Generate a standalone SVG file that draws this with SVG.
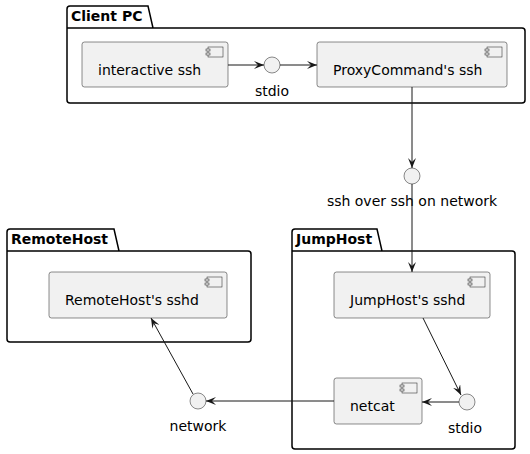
<svg xmlns="http://www.w3.org/2000/svg" width="530" height="454" viewBox="0 0 530 454">
<defs>
<style>
.pkg{fill:none;stroke:#000;stroke-width:1.5}
.comp{fill:#F1F1F1;stroke:#181818;stroke-width:0.5}
.icon{fill:#F1F1F1;stroke:#181818;stroke-width:0.5}
.ifc{fill:#F1F1F1;stroke:#181818;stroke-width:0.5}
.t{font-family:"DejaVu Sans",sans-serif;font-size:14px;fill:#000}
.pt{font-family:"DejaVu Sans",sans-serif;font-size:14px;font-weight:bold;fill:#000}
.ln{fill:none;stroke:#181818;stroke-width:1}
</style>
<marker id="ah" viewBox="0 0 10 8" refX="10" refY="4" markerWidth="10" markerHeight="8" markerUnits="userSpaceOnUse" orient="auto">
<polygon points="0,0 10,4 0,8 4,4" fill="#181818"/>
</marker>
<symbol id="ci" overflow="visible">
<rect class="icon" x="0" y="0" width="15" height="10"/>
<rect class="icon" x="-2" y="2" width="4" height="2"/>
<rect class="icon" x="-2" y="6" width="4" height="2"/>
</symbol>
</defs>

<g id="pkg-client">
<path class="pkg" d="M67,28 L67,9 Q67,6 70,6 L148,6 L153,28 L522,28 Q525,28 525,31 L525,100 Q525,103 522,103 L70,103 Q67,103 67,100 Z M67,28 L153,28"/>
<text class="pt" x="71" y="21">Client PC</text>
</g>
<g id="pkg-remote">
<path class="pkg" d="M7,251 L7,232 Q7,229 10,229 L114,229 L119,251 L248,251 Q251,251 251,254 L251,339 Q251,342 248,342 L10,342 Q7,342 7,339 Z M7,251 L119,251"/>
<text class="pt" x="11" y="244">RemoteHost</text>
</g>
<g id="pkg-jump">
<path class="pkg" d="M292,251 L292,232 Q292,229 295,229 L377,229 L382,251 L512,251 Q515,251 515,254 L515,446 Q515,449 512,449 L295,449 Q292,449 292,446 Z M292,251 L382,251"/>
<text class="pt" x="296" y="244">JumpHost</text>
</g>

<g id="interactive-ssh">
<rect class="comp" x="82" y="42" width="146" height="45" rx="2.5"/>
<use href="#ci" x="208" y="47"/>
<text class="t" x="98" y="75">interactive ssh</text>
</g>
<g id="stdio-client">
<circle class="ifc" cx="272" cy="65" r="8"/>
<text class="t" x="272" y="96" text-anchor="middle">stdio</text>
</g>
<g id="proxycommand-ssh">
<rect class="comp" x="317" y="42" width="190" height="45" rx="2.5"/>
<use href="#ci" x="487" y="47"/>
<text class="t" x="333" y="75">ProxyCommand's ssh</text>
</g>
<g id="ssh-over-ssh">
<circle class="ifc" cx="412" cy="176" r="8"/>
<text class="t" x="412" y="206" text-anchor="middle">ssh over ssh on network</text>
</g>
<g id="jumphost-sshd">
<rect class="comp" x="334" y="272" width="156" height="46" rx="2.5"/>
<use href="#ci" x="470" y="277"/>
<text class="t" x="350" y="305">JumpHost's sshd</text>
</g>
<g id="stdio-jump">
<circle class="ifc" cx="467" cy="402" r="8"/>
<text class="t" x="465" y="433" text-anchor="middle">stdio</text>
</g>
<g id="netcat">
<rect class="comp" x="334" y="378" width="88" height="46" rx="2.5"/>
<use href="#ci" x="402" y="383"/>
<text class="t" x="350" y="411">netcat</text>
</g>
<g id="network">
<circle class="ifc" cx="198" cy="401" r="8"/>
<text class="t" x="198" y="431" text-anchor="middle">network</text>
</g>
<g id="remotehost-sshd">
<rect class="comp" x="49" y="272" width="178" height="46" rx="2.5"/>
<use href="#ci" x="207" y="277"/>
<text class="t" x="65" y="305">RemoteHost's sshd</text>
</g>

<g id="connectors">
<line class="ln" x1="228" y1="65" x2="264" y2="65" marker-end="url(#ah)"/>
<line class="ln" x1="280" y1="65" x2="317" y2="65" marker-end="url(#ah)"/>
<line class="ln" x1="412" y1="87" x2="412" y2="168" marker-end="url(#ah)"/>
<line class="ln" x1="412" y1="184" x2="412" y2="272" marker-end="url(#ah)"/>
<line class="ln" x1="423" y1="318" x2="461" y2="395" marker-end="url(#ah)"/>
<line class="ln" x1="459" y1="402" x2="422" y2="402" marker-end="url(#ah)"/>
<line class="ln" x1="334" y1="401" x2="206" y2="401" marker-end="url(#ah)"/>
<line class="ln" x1="193" y1="394" x2="151" y2="318" marker-end="url(#ah)"/>
</g>
</svg>
